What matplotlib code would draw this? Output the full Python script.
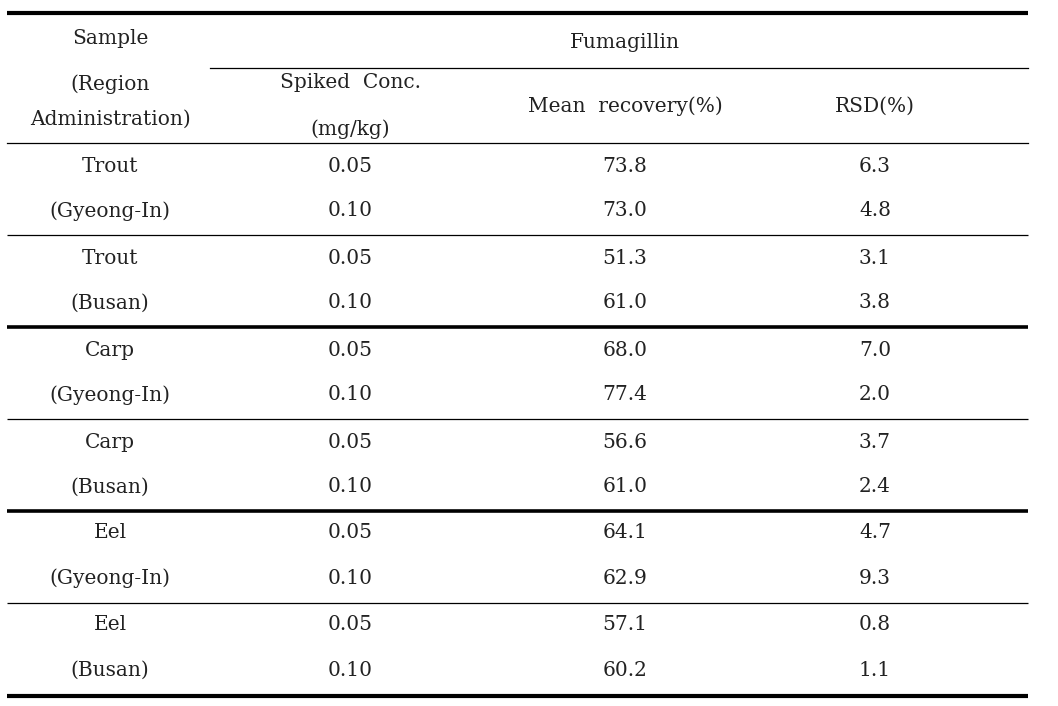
import matplotlib.pyplot as plt
import matplotlib as mpl

mpl.rcParams["font.family"] = ["DejaVu Serif"]

# ── Table data ──
SAMPLES = ["Trout", "Trout", "Carp", "Carp", "Eel", "Eel"]
REGIONS = ["(Gyeong-In)", "(Busan)", "(Gyeong-In)", "(Busan)", "(Gyeong-In)", "(Busan)"]
SPIKED = ["0.05", "0.10"]
MEAN_RECOVERY = [73.8, 73.0, 51.3, 61.0, 68.0, 77.4, 56.6, 61.0, 64.1, 62.9, 57.1, 60.2]
RSD = [6.3, 4.8, 3.1, 3.8, 7.0, 2.0, 3.7, 2.4, 4.7, 9.3, 0.8, 1.1]

# ── Layout (pixel coordinates) ──
W, H = 1058, 706
X0, X1 = 7, 1028
COL_X = [110, 350, 625, 875]
ROW_Y = [166, 211, 258, 303, 350, 395, 442, 487, 533, 578, 625, 670]
GROUP_LINES = [235, 327, 419, 511, 603]
FS = 14.5

fig = plt.figure(figsize=(W / 100, H / 100), dpi=100)
ax = fig.add_axes([0, 0, 1, 1])
ax.set_xlim(0, W)
ax.set_ylim(H, 0)
ax.axis("off")

# rules
ax.plot([X0, X1], [13, 13], color="black", lw=3.0, solid_capstyle="butt")
ax.plot([210, X1], [68, 68], color="black", lw=0.9)
ax.plot([X0, X1], [143, 143], color="black", lw=0.9)
for i, y in enumerate(GROUP_LINES):
    lw = 2.6 if i % 2 == 1 else 0.9
    ax.plot([X0, X1], [y, y], color="black", lw=lw, solid_capstyle="butt")
ax.plot([X0, X1], [696, 696], color="black", lw=3.0, solid_capstyle="butt")

# header
kw = dict(ha="center", va="center", fontsize=FS, color="#222222")
ax.text(COL_X[0], 38, "Sample", **kw)
ax.text(COL_X[0], 84, "(Region", **kw)
ax.text(COL_X[0], 119, "Administration)", **kw)
ax.text(625, 42, "Fumagillin", **kw)
ax.text(COL_X[1], 83, "Spiked  Conc.", **kw)
ax.text(COL_X[1], 129, "(mg/kg)", **kw)
ax.text(COL_X[2], 106, "Mean  recovery(%)", **kw)
ax.text(COL_X[3], 106, "RSD(%)", **kw)

# body
for r, y in enumerate(ROW_Y):
    g = r // 2
    first = r % 2 == 0
    ax.text(COL_X[0], y, SAMPLES[g] if first else REGIONS[g], **kw)
    ax.text(COL_X[1], y, SPIKED[r % 2], **kw)
    ax.text(COL_X[2], y, f"{MEAN_RECOVERY[r]:.1f}", **kw)
    ax.text(COL_X[3], y, f"{RSD[r]:.1f}", **kw)

fig.savefig("out.png", dpi=100)
